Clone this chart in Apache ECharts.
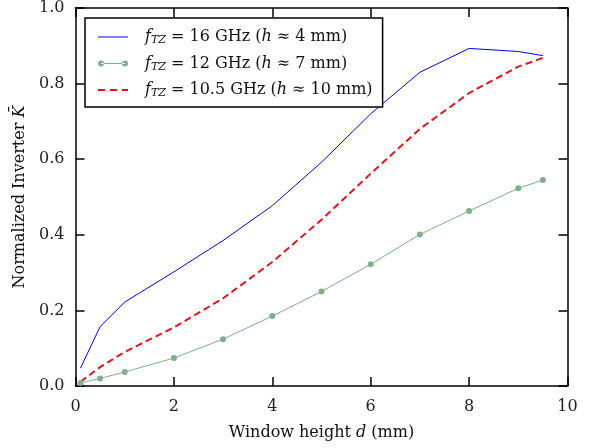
<!DOCTYPE html>
<html><head><meta charset="utf-8">
<script src="https://cdn.jsdelivr.net/npm/echarts@6/dist/echarts.min.js"></script>
<style>html,body{margin:0;padding:0;background:#fff}#c{width:596px;height:448px}</style>
</head><body><div id="c"></div>
<script>
const xBlue = [0.1, 0.5, 1, 2, 3, 4, 5, 6, 7, 8, 9, 9.5];
const yBlue = [0.047, 0.157, 0.222, 0.302, 0.385, 0.477, 0.592, 0.72, 0.83, 0.893, 0.885, 0.874];
const xGreen = [0.1, 0.5, 1, 2, 3, 4, 5, 6, 7, 8, 9, 9.5];
const yGreen = [0.008, 0.02, 0.037, 0.074, 0.124, 0.185, 0.25, 0.322, 0.401, 0.463, 0.523, 0.545];
const xRed = [0.1, 0.5, 1, 2, 3, 4, 5, 6, 7, 8, 9, 9.5];
const yRed = [0.011, 0.05, 0.09, 0.155, 0.232, 0.328, 0.44, 0.562, 0.68, 0.775, 0.845, 0.868];
const names = ['16', '12', '10.5'];
const hVals = ['4', '7', '10'];
const xTicks = [0, 2, 4, 6, 8, 10];
const yTicks = [0.0, 0.2, 0.4, 0.6, 0.8, 1.0];

const FONT = '"DejaVu Serif", "Liberation Serif", serif';
const FS = 16;
const zip = (a, b) => a.map((v, i) => [v, b[i]]);
const chart = echarts.init(document.getElementById('c'), null, {renderer: 'canvas'});
const rich = {
  i: {fontStyle: 'italic', fontFamily: FONT, fontSize: FS, color: '#111'},
  s: {fontStyle: 'italic', fontFamily: FONT, fontSize: 11, color: '#111', verticalAlign: 'bottom', padding: [7, 0, 0, 0]},
  n: {fontFamily: FONT, fontSize: FS, color: '#111'}
};
const seriesNames = names.map((n, k) => 'S' + k);
const legendIcons = [
  'path://M0,0h30v1h-30z',
  'path://M0,3a3,3 0 1,0 6,0a3,3 0 1,0 -6,0z M24,3a3,3 0 1,0 6,0a3,3 0 1,0 -6,0z M3,2.5h24v1h-24z',
  'path://M0,0h7v2h-7z M12,0h7v2h-7z M24,0h6v2h-6z'
];
const axisCommon = {
  min: 0,
  axisLine: {show: true, onZero: false, lineStyle: {color: '#000', width: 1.5}},
  splitLine: {show: false},
  axisTick: {show: true, inside: true, length: 9, lineStyle: {color: '#000', width: 1.5}}
};
chart.setOption({
  animation: false,
  backgroundColor: '#fff',
  grid: {left: 75.5, top: 7.5, right: 28.5, bottom: 62, containLabel: false},
  legend: {
    orient: 'vertical', left: 85, top: 18,
    data: seriesNames.map((nm, k) => ({name: nm, icon: legendIcons[k]})),
    symbolKeepAspect: true,
    backgroundColor: '#fff', borderColor: '#000', borderWidth: 1.5, borderRadius: 0,
    padding: [11, 10, 8, 13], itemGap: 9.5, itemWidth: 30, itemHeight: 6,
    textStyle: {fontFamily: FONT, fontSize: FS, color: '#111', rich: rich, padding: [0, 0, 0, 12]},
    formatter: function (nm) {
      const k = seriesNames.indexOf(nm);
      return '{i|f}{s|TZ}{n| = ' + names[k] + ' GHz (}{i|h}{n| ≈ ' + hVals[k] + ' mm)}';
    }
  },
  xAxis: [
    Object.assign({}, axisCommon, {
      type: 'value', max: 10, interval: 2, position: 'bottom',
      axisLabel: {fontFamily: FONT, fontSize: FS, color: '#222', margin: 13, formatter: v => xTicks.includes(v) ? String(v) : ''},
      name: '{n|Window height }{i|d}{n| (mm)}', nameLocation: 'middle', nameGap: 39,
      nameTextStyle: {rich: rich}
    }),
    Object.assign({}, axisCommon, {
      type: 'value', max: 10, interval: 2, position: 'top',
      axisLabel: {show: false}
    })
  ],
  yAxis: [
    Object.assign({}, axisCommon, {
      type: 'value', max: 1, interval: 0.2, position: 'left',
      axisLabel: {fontFamily: FONT, fontSize: FS, color: '#222', margin: 11, formatter: v => yTicks.some(t => Math.abs(t - v) < 1e-9) ? v.toFixed(1) : ''},
      name: '{n|Normalized Inverter }{i|K̄}', nameLocation: 'middle', nameGap: 46,
      nameTextStyle: {rich: rich}
    }),
    Object.assign({}, axisCommon, {
      type: 'value', max: 1, interval: 0.2, position: 'right',
      axisLabel: {show: false}
    })
  ],
  series: [
    {name: seriesNames[0], type: 'line', data: zip(xBlue, yBlue), showSymbol: false, symbol: 'none',
     lineStyle: {color: '#0000ff', width: 1}, itemStyle: {color: '#0000ff'}},
    {name: seriesNames[1], type: 'line', data: zip(xGreen, yGreen), symbol: 'circle', symbolSize: 6,
     lineStyle: {color: '#7fb08c', width: 1}, itemStyle: {color: '#7fb08c'}},
    {name: seriesNames[2], type: 'line', data: zip(xRed, yRed), showSymbol: false, symbol: 'none',
     lineStyle: {color: '#e8141c', width: 2, type: [7, 4]}, itemStyle: {color: '#e8141c'}}
  ]
});
</script></body></html>
